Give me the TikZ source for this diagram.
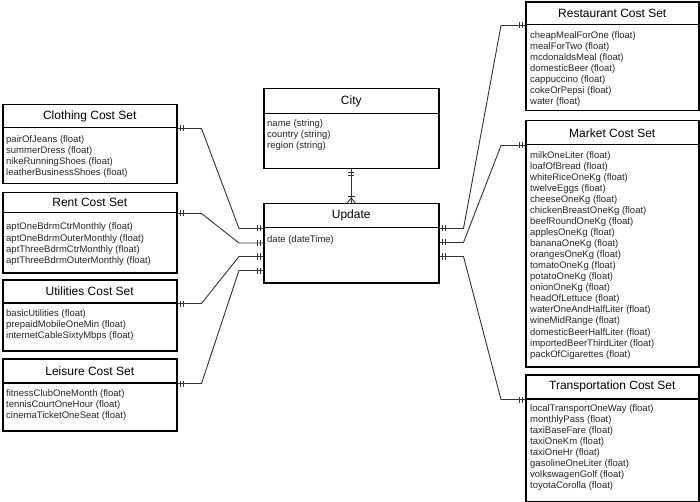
\documentclass[tikz,border=0pt]{standalone}
\usepackage{fontspec}
\setmainfont{Liberation Sans}
\usetikzlibrary{calc}
\tikzset{
  titlebox/.style={draw=black, line width=1.5pt, rectangle, inner sep=0pt, anchor=north west, font=\fontsize{12}{14}\selectfont},
  bodybox/.style={draw=black, line width=1.5pt, rectangle, inner sep=0pt, anchor=north west},
  attr/.style={inner sep=0pt, anchor=base west, font=\fontsize{9.5}{11}\selectfont, text=black!85},
  conn/.style={draw=black!80, line width=0.9pt},
  tickmark/.style={draw=black!80, line width=0.9pt}
}
\begin{document}
\begin{tikzpicture}[x=1pt, y=-1pt]
\fill[white] (0,0) rectangle (700,502);
\useasboundingbox (0,0) rectangle (700,502);

% ---------- left entities ----------
\node[bodybox, minimum width=174pt, minimum height=56pt] (clothB) at (2,127) {};
\node[titlebox, minimum width=174pt, minimum height=23pt] (clothT) at (2,104) {Clothing Cost Set};
\foreach \t [count=\i from 0] in {pairOfJeans, summerDress, nikeRunningShoes, leatherBusinessShoes}
  \node[attr] (clothL\i) at (6, 142.5+11.05*\i) {\t\ (float)};

\node[bodybox, minimum width=174pt, minimum height=60pt] (rentB) at (2,212) {};
\node[titlebox, minimum width=174pt, minimum height=20pt] (rentT) at (2,192) {Rent Cost Set};
\foreach \t [count=\i from 0] in {aptOneBdrmCtrMonthly, aptOneBdrmOuterMonthly, aptThreeBdrmCtrMonthly, aptThreeBdrmOuterMonthly}
  \node[attr] (rentL\i) at (6, 230+11.05*\i) {\t\ (float)};

\node[bodybox, minimum width=174pt, minimum height=48pt] (utilB) at (2,302) {};
\node[titlebox, minimum width=174pt, minimum height=23pt] (utilT) at (2,279) {Utilities Cost Set};
\foreach \t [count=\i from 0] in {basicUtilities, prepaidMobileOneMin, internetCableSixtyMbps}
  \node[attr] (utilL\i) at (6, 316+11.05*\i) {\t\ (float)};

\node[bodybox, minimum width=174pt, minimum height=48pt] (leisB) at (2,382) {};
\node[titlebox, minimum width=174pt, minimum height=24pt] (leisT) at (2,358) {Leisure Cost Set};
\foreach \t [count=\i from 0] in {fitnessClubOneMonth, tennisCourtOneHour, cinemaTicketOneSeat}
  \node[attr] (leisL\i) at (6, 396.5+11.05*\i) {\t\ (float)};

% ---------- centre entities ----------
\node[bodybox, minimum width=175pt, minimum height=55pt] (cityB) at (263,113) {};
\node[titlebox, minimum width=175pt, minimum height=25pt] (cityT) at (263,88) {City};
\node[attr] (cityL0) at (267,126.5) {name (string)};
\node[attr] (cityL1) at (267,137.5) {country (string)};
\node[attr] (cityL2) at (267,148.5) {region (string)};

\node[bodybox, minimum width=175pt, minimum height=55pt] (updB) at (263,227) {};
\node[titlebox, minimum width=175pt, minimum height=24pt] (updT) at (263,203) {Update};
\node[attr] (updL0) at (267,242.2) {date (dateTime)};

% ---------- right entities ----------
\node[bodybox, minimum width=173pt, minimum height=86pt] (restB) at (525,24) {};
\node[titlebox, minimum width=173pt, minimum height=22.5pt] (restT) at (525,1.5) {Restaurant Cost Set};
\foreach \t [count=\i from 0] in {cheapMealForOne, mealForTwo, mcdonaldsMeal, domesticBeer, cappuccino, cokeOrPepsi, water}
  \node[attr] (restL\i) at (530, 38.2+11.05*\i) {\t\ (float)};

\node[bodybox, minimum width=173pt, minimum height=222pt] (markB) at (525,144) {};
\node[titlebox, minimum width=173pt, minimum height=24pt] (markT) at (525,120) {Market Cost Set};
\foreach \t [count=\i from 0] in {milkOneLiter, loafOfBread, whiteRiceOneKg, twelveEggs, cheeseOneKg, chickenBreastOneKg, beefRoundOneKg, applesOneKg, bananaOneKg, orangesOneKg, tomatoOneKg, potatoOneKg, onionOneKg, headOfLettuce, waterOneAndHalfLiter, wineMidRange, domesticBeerHalfLiter, importedBeerThirdLiter, packOfCigarettes}
  \node[attr] (markL\i) at (530, 158.2+11.05*\i) {\t\ (float)};

\node[bodybox, minimum width=173pt, minimum height=102.5pt] (tranB) at (525,398) {};
\node[titlebox, minimum width=173pt, minimum height=24pt] (tranT) at (525,374) {Transportation Cost Set};
\foreach \t [count=\i from 0] in {localTransportOneWay, monthlyPass, taxiBaseFare, taxiOneKm, taxiOneHr, gasolineOneLiter, volkswagenGolf, toyotaCorolla}
  \node[attr] (tranL\i) at (530, 411.5+11.05*\i) {\t\ (float)};

% ---------- connector end points on Update ----------
\coordinate (uL1) at (updT.south west);
\coordinate (uL2) at ($(updT.south west)+(0,14.5)$);
\coordinate (uL3) at ($(updT.south west)+(0,28)$);
\coordinate (uL4) at ($(updT.south west)+(0,42)$);
\coordinate (uR1) at (updT.south east);
\coordinate (uR2) at ($(updT.south east)+(0,14)$);
\coordinate (uR3) at ($(updT.south east)+(0,28)$);

% ---------- connectors ----------
\draw[conn] (clothT.south east) -- ++(24,0) -- ($(uL1)+(-24,0)$) -- (uL1);
\draw[conn] (rentT.south east) -- ++(24,0) -- ($(uL2)+(-24,0)$) -- (uL2);
\draw[conn] (utilT.south east) -- ++(24,0) -- ($(uL3)+(-24,0)$) -- (uL3);
\draw[conn] (leisT.south east) -- ++(24,0) -- ($(uL4)+(-24,0)$) -- (uL4);
\draw[conn] (restT.south west) -- ++(-24,0) -- ($(uR1)+(24,0)$) -- (uR1);
\draw[conn] (markT.south west) -- ++(-24,0) -- ($(uR2)+(24,0)$) -- (uR2);
\draw[conn] (tranT.south west) -- ++(-24,0) -- ($(uR3)+(24,0)$) -- (uR3);
\draw[conn] (cityB.south) -- (updT.north);

% ---------- "one and only one" marks ----------
\foreach \p in {clothT.south east, rentT.south east, utilT.south east, leisT.south east}{
  \draw[tickmark] ($(\p)+(3,-3)$) -- ++(0,6);
  \draw[tickmark] ($(\p)+(6,-3)$) -- ++(0,6);
}
\foreach \p in {restT.south west, markT.south west, tranT.south west}{
  \draw[tickmark] ($(\p)+(-3,-3)$) -- ++(0,6);
  \draw[tickmark] ($(\p)+(-6,-3)$) -- ++(0,6);
}
\foreach \p in {uL1, uL2, uL3, uL4}{
  \draw[tickmark] ($(\p)+(-3,-3)$) -- ++(0,6);
  \draw[tickmark] ($(\p)+(-6,-3)$) -- ++(0,6);
}
\foreach \p in {uR1, uR2, uR3}{
  \draw[tickmark] ($(\p)+(3,-3)$) -- ++(0,6);
  \draw[tickmark] ($(\p)+(6,-3)$) -- ++(0,6);
}
\draw[tickmark] ($(cityB.south)+(-3,3)$) -- ++(6,0);
\draw[tickmark] ($(cityB.south)+(-3,6)$) -- ++(6,0);
\draw[tickmark] ($(updT.north)+(-3.5,-7)$) -- ++(7,0);
\draw[tickmark] ($(updT.north)+(0,-5)$) -- ($(updT.north)+(-4,0)$);
\draw[tickmark] ($(updT.north)+(0,-5)$) -- ($(updT.north)+(4,0)$);
\end{tikzpicture}
\end{document}
